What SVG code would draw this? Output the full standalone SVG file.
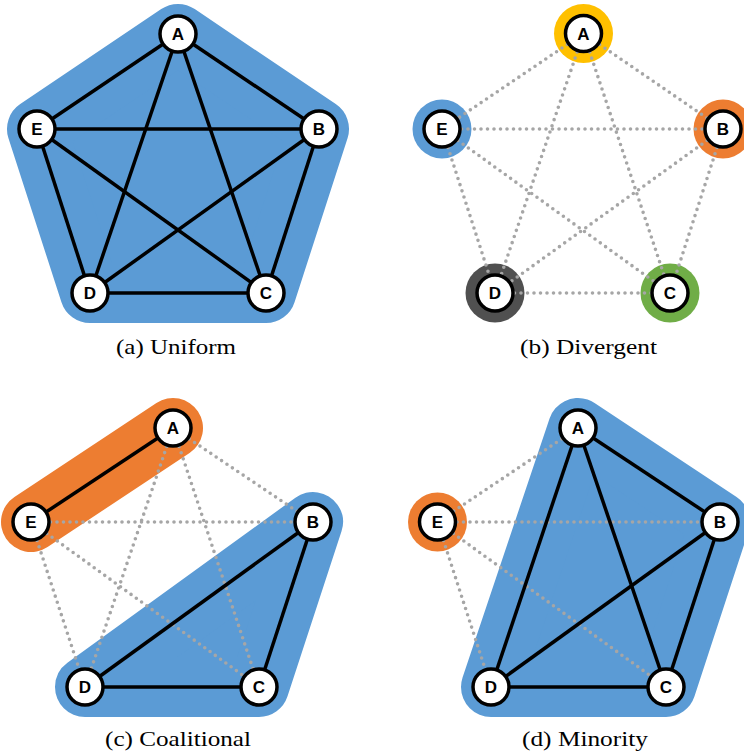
<svg xmlns="http://www.w3.org/2000/svg" width="744" height="754" viewBox="0 0 744 754">
<style>
.bg{fill:#5B9BD5;stroke:#5B9BD5;stroke-width:60;stroke-linejoin:round;stroke-linecap:round}
.og{fill:#ED7D31;stroke:#ED7D31;stroke-width:60;stroke-linejoin:round;stroke-linecap:round}
.solid{stroke:#000;stroke-width:3.5;fill:none}
.dot{stroke:#A6A6A6;stroke-width:3.6;stroke-dasharray:0 6.5;stroke-linecap:round;fill:none}
.node circle{fill:#fff;stroke:#000;stroke-width:3.5}
.node text{font-family:"Liberation Sans","Open Sans",sans-serif;font-weight:700;font-size:17px;text-anchor:middle;fill:#000}
.cap{font-family:"Liberation Serif",serif;font-size:22px;fill:#000}
</style>
<rect width="744" height="754" fill="#fff"/>

<!-- Panel a -->
<g id="a-bg"><polygon class="bg" points="178,34 319,129 266,293 90,293 37,129"/></g>
<g id="a-connectors">
<line class="solid" x1="178" y1="34" x2="319" y2="129"/>
<line class="solid" x1="178" y1="34" x2="37" y2="129"/>
<line class="solid" x1="178" y1="34" x2="266" y2="293"/>
<line class="solid" x1="178" y1="34" x2="90" y2="293"/>
<line class="solid" x1="37" y1="129" x2="319" y2="129"/>
<line class="solid" x1="37" y1="129" x2="90" y2="293"/>
<line class="solid" x1="37" y1="129" x2="266" y2="293"/>
<line class="solid" x1="319" y1="129" x2="266" y2="293"/>
<line class="solid" x1="319" y1="129" x2="90" y2="293"/>
<line class="solid" x1="90" y1="293" x2="266" y2="293"/>
</g>
<g id="a-A" class="node"><circle cx="178" cy="34" r="18"/><text x="178" y="40">A</text></g>
<g id="a-B" class="node"><circle cx="319" cy="129" r="18"/><text x="319" y="135">B</text></g>
<g id="a-C" class="node"><circle cx="266" cy="293" r="18"/><text x="266" y="299">C</text></g>
<g id="a-D" class="node"><circle cx="90" cy="293" r="18"/><text x="90" y="299">D</text></g>
<g id="a-E" class="node"><circle cx="37" cy="129" r="18"/><text x="37" y="135">E</text></g>
<text class="cap" x="116" y="354" textLength="120" lengthAdjust="spacingAndGlyphs">(a) Uniform</text>

<!-- Panel b -->
<g id="b-rings">
<circle cx="583.5" cy="33.5" r="29.5" fill="#FFC000"/>
<circle cx="723" cy="129" r="29.5" fill="#ED7D31"/>
<circle cx="670" cy="293" r="29.5" fill="#70AD47"/>
<circle cx="495" cy="293" r="29.5" fill="#505050"/>
<circle cx="442" cy="129" r="29.5" fill="#5B9BD5"/>
</g>
<g id="b-connectors">
<line class="dot" x1="583.5" y1="33.5" x2="723" y2="129"/>
<line class="dot" x1="583.5" y1="33.5" x2="442" y2="129"/>
<line class="dot" x1="583.5" y1="33.5" x2="670" y2="293"/>
<line class="dot" x1="583.5" y1="33.5" x2="495" y2="293"/>
<line class="dot" x1="442" y1="129" x2="723" y2="129"/>
<line class="dot" x1="442" y1="129" x2="495" y2="293"/>
<line class="dot" x1="442" y1="129" x2="670" y2="293"/>
<line class="dot" x1="723" y1="129" x2="670" y2="293"/>
<line class="dot" x1="723" y1="129" x2="495" y2="293"/>
<line class="dot" x1="495" y1="293" x2="670" y2="293"/>
</g>
<g id="b-A" class="node"><circle cx="583.5" cy="33.5" r="18"/><text x="583.5" y="39.5">A</text></g>
<g id="b-B" class="node"><circle cx="723" cy="129" r="18"/><text x="723" y="135">B</text></g>
<g id="b-C" class="node"><circle cx="670" cy="293" r="18"/><text x="670" y="299">C</text></g>
<g id="b-D" class="node"><circle cx="495" cy="293" r="18"/><text x="495" y="299">D</text></g>
<g id="b-E" class="node"><circle cx="442" cy="129" r="18"/><text x="442" y="135">E</text></g>
<text class="cap" x="520" y="354" textLength="137" lengthAdjust="spacingAndGlyphs">(b) Divergent</text>

<!-- Panel c -->
<g id="c-bg">
<line class="og" x1="173" y1="428" x2="31" y2="522"/>
<polygon class="bg" points="313,522 259,687 85,687"/>
</g>
<g id="c-connectors">
<line class="dot" x1="173" y1="428" x2="313" y2="522"/>
<line class="dot" x1="173" y1="428" x2="259" y2="687"/>
<line class="dot" x1="173" y1="428" x2="85" y2="687"/>
<line class="dot" x1="31" y1="522" x2="313" y2="522"/>
<line class="dot" x1="31" y1="522" x2="259" y2="687"/>
<line class="dot" x1="31" y1="522" x2="85" y2="687"/>
<line class="solid" x1="173" y1="428" x2="31" y2="522"/>
<line class="solid" x1="313" y1="522" x2="259" y2="687"/>
<line class="solid" x1="313" y1="522" x2="85" y2="687"/>
<line class="solid" x1="85" y1="687" x2="259" y2="687"/>
</g>
<g id="c-A" class="node"><circle cx="173" cy="428" r="18"/><text x="173" y="434">A</text></g>
<g id="c-B" class="node"><circle cx="313" cy="522" r="18"/><text x="313" y="528">B</text></g>
<g id="c-C" class="node"><circle cx="259" cy="687" r="18"/><text x="259" y="693">C</text></g>
<g id="c-D" class="node"><circle cx="85" cy="687" r="18"/><text x="85" y="693">D</text></g>
<g id="c-E" class="node"><circle cx="31" cy="522" r="18"/><text x="31" y="528">E</text></g>
<text class="cap" x="105" y="746" textLength="146" lengthAdjust="spacingAndGlyphs">(c) Coalitional</text>

<!-- Panel d -->
<g id="d-bg">
<polygon class="bg" points="578,428 720,522 666,687 491,687"/>
<circle cx="437.5" cy="522" r="29.5" fill="#ED7D31"/>
</g>
<g id="d-connectors">
<line class="dot" x1="437.5" y1="522" x2="578" y2="428"/>
<line class="dot" x1="437.5" y1="522" x2="720" y2="522"/>
<line class="dot" x1="437.5" y1="522" x2="666" y2="687"/>
<line class="dot" x1="437.5" y1="522" x2="491" y2="687"/>
<line class="solid" x1="578" y1="428" x2="720" y2="522"/>
<line class="solid" x1="578" y1="428" x2="666" y2="687"/>
<line class="solid" x1="578" y1="428" x2="491" y2="687"/>
<line class="solid" x1="720" y1="522" x2="666" y2="687"/>
<line class="solid" x1="720" y1="522" x2="491" y2="687"/>
<line class="solid" x1="491" y1="687" x2="666" y2="687"/>
</g>
<g id="d-A" class="node"><circle cx="578" cy="428" r="18"/><text x="578" y="434">A</text></g>
<g id="d-B" class="node"><circle cx="720" cy="522" r="18"/><text x="720" y="528">B</text></g>
<g id="d-C" class="node"><circle cx="666" cy="687" r="18"/><text x="666" y="693">C</text></g>
<g id="d-D" class="node"><circle cx="491" cy="687" r="18"/><text x="491" y="693">D</text></g>
<g id="d-E" class="node"><circle cx="437.5" cy="522" r="18"/><text x="437.5" y="528">E</text></g>
<text class="cap" x="522" y="746" textLength="126" lengthAdjust="spacingAndGlyphs">(d) Minority</text>
</svg>
